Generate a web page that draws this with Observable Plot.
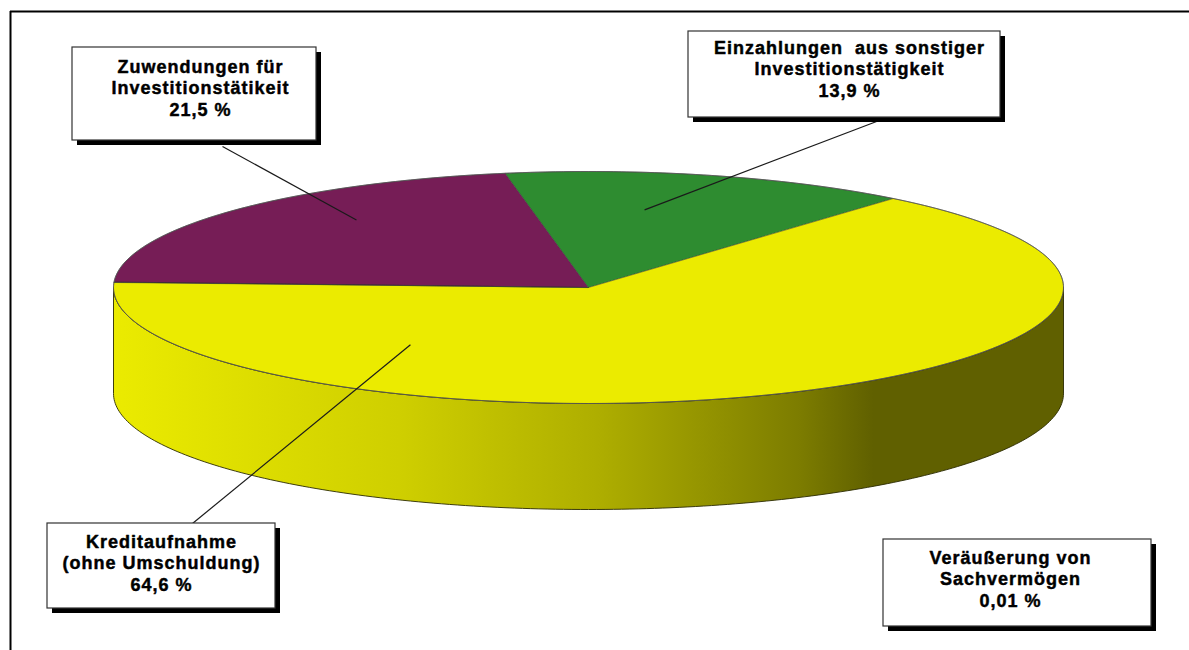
<!DOCTYPE html>
<html><head><meta charset="utf-8">
<script src="https://cdn.jsdelivr.net/npm/d3@7"></script>
<script src="https://cdn.jsdelivr.net/npm/@observablehq/plot@0.6"></script>
<style>
body{margin:0;background:#fff;}
#chart svg text{letter-spacing:1px;white-space:pre;}
</style></head><body><div id="chart"></div>
<script>
// ---- data ----
const categories = ["Zuwendungen für\nInvestitionstätikeit", "Einzahlungen  aus sonstiger\nInvestitionstätigkeit", "Kreditaufnahme\n(ohne Umschuldung)", "Veräußerung von\nSachvermögen"];
const shares = [21.5, 13.9, 64.6, 0.01];
const shareLabels = ["21,5 %", "13,9 %", "64,6 %", "0,01 %"];
const colors = ["#761d56", "#2e8c30", "#ebeb00", "#2b3a8c"];

// ---- layout ----
const W = 1189, H = 650;
const pie = {cx: 588, cy: 287, rx: 475, ry: 116, depth: 106, start: 177.5};
const boxLayout = [
  {x1: 72,  x2: 316,  y1: 47,  y2: 140, tx: 200,  ty: 57},
  {x1: 688, x2: 1000, y1: 31,  y2: 117, tx: 849,  ty: 38},
  {x1: 47,  x2: 275,  y1: 523, y2: 608, tx: 161,  ty: 532},
  {x1: 883, x2: 1151, y1: 539, y2: 626, tx: 1010, ty: 548}
];
const leaderFrom = [[222, 146], [884, 118], [192, 523], null];
const leaderAnchor = [[130, 0.76], [80, 0.68], [232.8, 0.62], null];
const shadowOffset = 5;
// brightness of the side wall across its width: [fraction, darker k]
const sideShade = [[0, 0], [0.3, 0.36], [0.51, 0.84], [0.72, 1.78], [0.8, 2.5], [1, 2.5]];

// ---- geometry ----
const total = d3.sum(shares);
const rad = d => d * Math.PI / 180;
const P = (t, r = 1, dz = 0) => ({x: pie.cx + r * pie.rx * Math.cos(rad(t)), y: pie.cy - r * pie.ry * Math.sin(rad(t)) + dz});

let acc = pie.start;
const slices = shares.map((v, i) => { const a0 = acc; const a1 = acc - v / total * 360; acc = a1; return {i, a0, a1}; });

const topPts = [];
slices.forEach(s => {
  topPts.push({k: s.i, ...P(0, 0)});
  const n = Math.max(2, Math.ceil(s.a0 - s.a1));
  for (let j = 0; j <= n; j++) topPts.push({k: s.i, ...P(s.a0 - (s.a0 - s.a1) * j / n)});
});

const sideGroups = [];
slices.forEach(s => {
  [-360, 0, 360].forEach(off => {
    const lo = Math.max(s.a1, -180 + off), hi = Math.min(s.a0, off);
    if (hi - lo > 0.5) {
      const n = Math.ceil(hi - lo), top = [], bot = [];
      for (let j = 0; j <= n; j++) {
        const t = hi - (hi - lo) * j / n;
        top.push(P(t)); bot.push(P(t, 1, pie.depth));
      }
      sideGroups.push({i: s.i, pts: [...top, ...bot.reverse()]});
    }
  });
});

const outline = d3.range(0, 361, 1).map(t => P(t));

const boxes = boxLayout.map((b, i) => ({...b, label: categories[i] + "\n" + shareLabels[i]}));
const leaders = [];
leaderFrom.forEach((f, i) => {
  if (!f) return;
  const [t, r] = leaderAnchor[i];
  const e = P(t, r);
  leaders.push({x1: f[0], y1: f[1], x2: e.x, y2: e.y});
});

const chart = Plot.plot({
  width: W, height: H, margin: 0,
  x: {domain: [0, W], range: [0, W], axis: null},
  y: {domain: [0, H], range: [0, H], axis: null},
  marks: [
    Plot.ruleY([11], {x1: 10, x2: W, stroke: "black", strokeWidth: 2}),
    Plot.ruleX([10], {y1: 11, y2: H, stroke: "black", strokeWidth: 2}),
    ...sideGroups.map(g => Plot.line(g.pts, {x: "x", y: "y", curve: "linear-closed", fill: `url(#side${g.i})`, stroke: "#2a2a00", strokeWidth: 0.9})),
    Plot.line(topPts, {x: "x", y: "y", z: "k", curve: "linear-closed", fill: d => colors[d.k], stroke: "#333", strokeWidth: 0.6, strokeOpacity: 0.8}),
    Plot.line(outline, {x: "x", y: "y", stroke: "#555", strokeWidth: 0.8}),
    Plot.link(leaders, {x1: "x1", y1: "y1", x2: "x2", y2: "y2", stroke: "#1a1a1a", strokeWidth: 1.2}),
    Plot.rect(boxes, {x1: d => d.x1 + shadowOffset, x2: d => d.x2 + shadowOffset, y1: d => d.y1 + shadowOffset, y2: d => d.y2 + shadowOffset, fill: "black"}),
    Plot.rect(boxes, {x1: "x1", x2: "x2", y1: "y1", y2: "y2", fill: "white", stroke: "#333", strokeWidth: 1.2}),
    Plot.text(boxes, {x: "tx", y: "ty", text: "label", lineAnchor: "top", lineHeight: 1.2, fontSize: 18, fontWeight: "bold", fontFamily: "Liberation Sans, Arial, sans-serif", fill: "black", stroke: "black", strokeWidth: 0.45})
  ],
  color: {type: "identity"}
});

const svg = chart.tagName && chart.tagName.toLowerCase() === "svg" ? chart : chart.querySelector("svg");
const defs = d3.select(svg).insert("defs", ":first-child");
sideGroups.forEach(g => {
  const grad = defs.append("linearGradient").attr("id", `side${g.i}`)
    .attr("gradientUnits", "userSpaceOnUse")
    .attr("x1", pie.cx - pie.rx).attr("x2", pie.cx + pie.rx).attr("y1", 0).attr("y2", 0);
  sideShade.forEach(([f, k]) => grad.append("stop").attr("offset", f).attr("stop-color", d3.color(colors[g.i]).darker(k).formatHex()));
});
document.getElementById("chart").appendChild(chart);
</script>
</body></html>
